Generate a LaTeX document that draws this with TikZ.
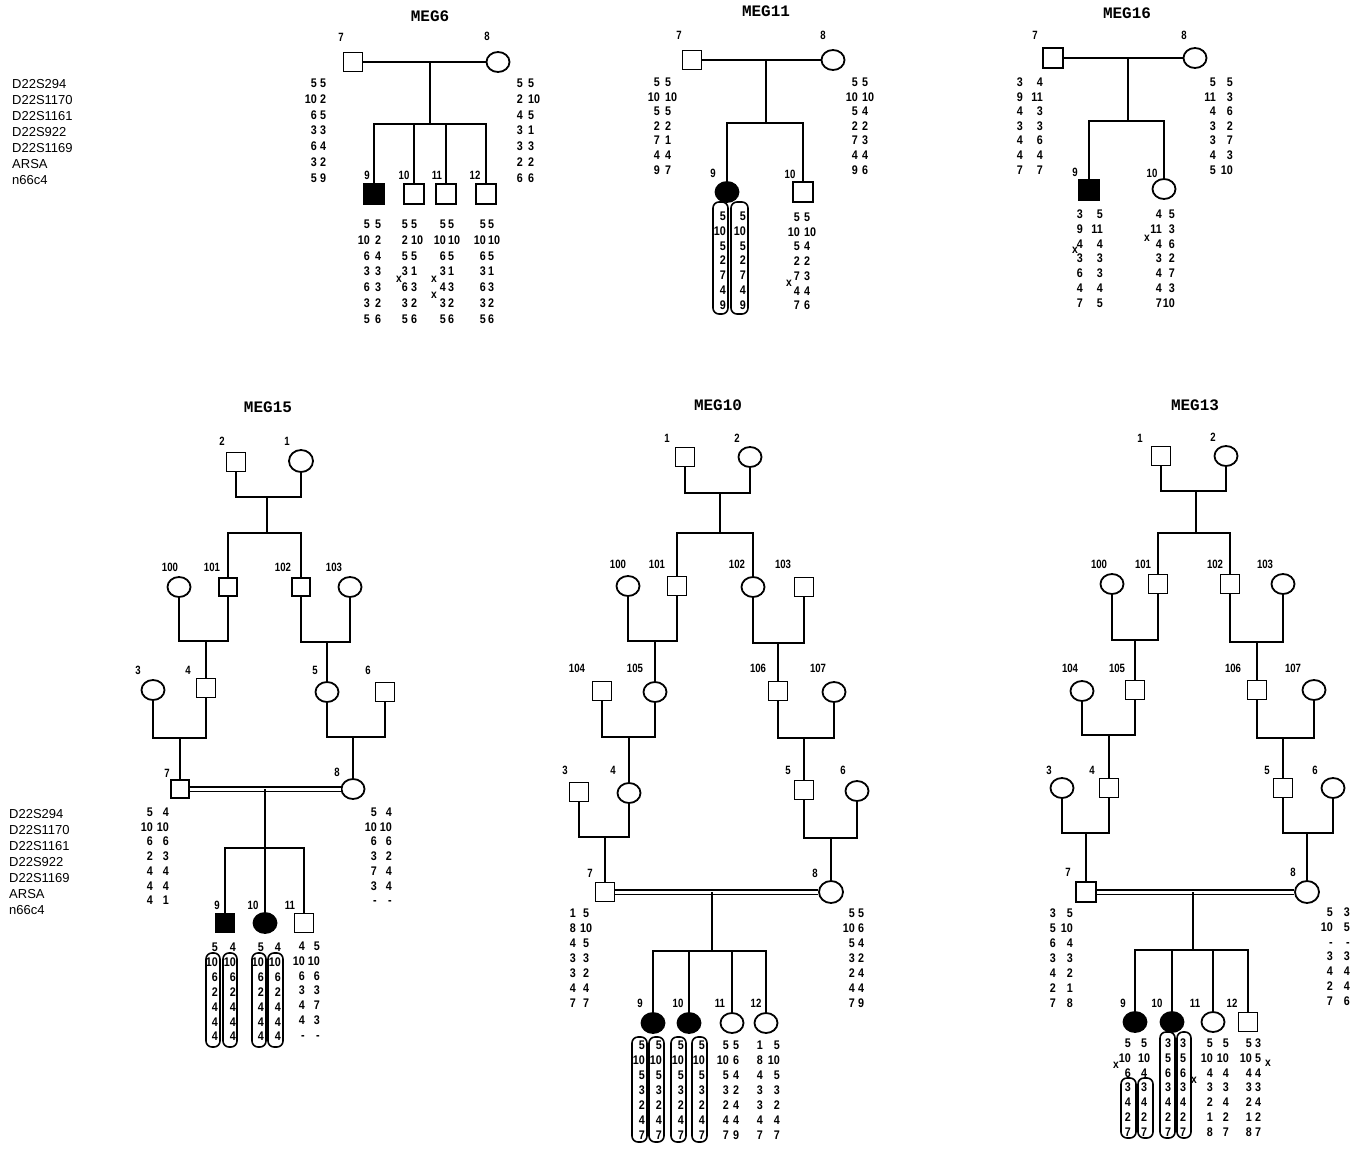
\documentclass[tikz,border=0pt]{standalone}
\usepackage{fontspec}
\setmainfont{Liberation Sans}
\newfontfamily\gtf[FakeStretch=0.86]{Liberation Sans}
\newfontfamily\labf[FakeStretch=0.8]{Liberation Sans}
\newfontfamily\ttlf{Liberation Mono}
\usetikzlibrary{shapes.geometric}
\newcommand{\gcol}[6]{\foreach \v [count=\i from 0] in {#6} {\node[gt, anchor=#3] (#1-\i) at (#2, {#4+#5*\i}) {\v};}}
\begin{document}
\begin{tikzpicture}[x=1pt, y=-1pt,
  sq/.style={draw, rectangle, minimum size=19pt, inner sep=0pt, line width=1.8pt},
  ci/.style={draw, ellipse, minimum width=23pt, minimum height=20pt, inner sep=0pt, line width=1.8pt},
  bci/.style={ci, minimum width=24pt, minimum height=22pt},
  aff/.style={fill=black},
  lnk/.style={line width=2.1pt},
  cons/.style={double, double distance=3pt, line width=1.7pt},
  lab/.style={font=\labf\bfseries\fontsize{12}{13}\selectfont, inner sep=0pt},
  gt/.style={font=\gtf\bfseries\fontsize{12.5}{13}\selectfont, inner sep=0pt, text height=9pt, text depth=0pt},
  mk/.style={font=\fontsize{13}{14}\selectfont, anchor=west, inner sep=0pt},
  ttl/.style={font=\ttlf\bfseries\fontsize{16}{17}\selectfont, inner sep=0pt},
  hap/.style={draw, rounded corners=6pt, line width=1.6pt},
  xm/.style={font=\gtf\bfseries\fontsize{12}{13}\selectfont, inner sep=0pt}]
\fill[white] (0,0) rectangle (1352,1151);
\useasboundingbox (0,0) rectangle (1352,1151);

% marker labels
\foreach \t [count=\i from 0] in {D22S294,D22S1170,D22S1161,D22S922,D22S1169,ARSA,n66c4} {
  \node[mk] (mkA\i) at (12, {84+16*\i}) {\t};
  \node[mk] (mkB\i) at (9, {814+16*\i}) {\t};
}

% ================= MEG6 =================
\node[ttl] (tA) at (430,16) {MEG6};
\node[sq] (A7) at (353,62) {};
\node[ci] (A8) at (498,62) {};
\node[lab] (lA7) at (341,37) {7};
\node[lab] (lA8) at (487,36) {8};
\coordinate (A78) at (430,62);
\coordinate (As) at (430,124);
\draw[lnk] (A7) -- (A8);
\draw[lnk] (A78) -- (As);
\node[sq,aff,minimum size=20pt] (A9) at (374,194) {};
\node[sq,minimum size=20pt] (A10) at (414,194) {};
\node[sq,minimum size=20pt] (A11) at (446,194) {};
\node[sq,minimum size=20pt] (A12) at (486,194) {};
\foreach \c in {A9,A10,A11,A12} {\draw[lnk] (As) -| (\c);}
\node[lab] (lA9) at (367,175) {9};
\node[lab] (lA10) at (404,175) {10};
\node[lab] (lA11) at (437,175) {11};
\node[lab] (lA12) at (475,175) {12};
\gcol{A7L}{317}{east}{83}{15.8}{5,10,6,3,6,3,5}
\gcol{A7R}{320}{west}{83}{15.8}{5,2,5,3,4,2,9}
\gcol{A8L}{523}{east}{83}{15.8}{5,2,4,3,3,2,6}
\gcol{A8R}{528}{west}{83}{15.8}{5,10,5,1,3,2,6}
\gcol{A9L}{370}{east}{224}{15.8}{5,10,6,3,6,3,5}
\gcol{A9R}{375}{west}{224}{15.8}{5,2,4,3,3,2,6}
\gcol{A10L}{408}{east}{224}{15.8}{5,2,5,3,6,3,5}
\gcol{A10R}{411}{west}{224}{15.8}{5,10,5,1,3,2,6}
\gcol{A11L}{446}{east}{224}{15.8}{5,10,6,3,4,3,5}
\gcol{A11R}{448}{west}{224}{15.8}{5,10,5,1,3,2,6}
\gcol{A12L}{486}{east}{224}{15.8}{5,10,6,3,6,3,5}
\gcol{A12R}{488}{west}{224}{15.8}{5,10,5,1,3,2,6}
\node[xm] (xA1) at (399,279) {x};
\node[xm] (xA2) at (434,279) {x};
\node[xm] (xA3) at (434,295) {x};

% ================= MEG11 =================
\node[ttl] (tB) at (766,11) {MEG11};
\node[sq] (B7) at (692,60) {};
\node[ci] (B8) at (833,60) {};
\node[lab] (lB7) at (679,35) {7};
\node[lab] (lB8) at (823,35) {8};
\coordinate (B78) at (766,60);
\coordinate (Bs) at (766,123);
\draw[lnk] (B7) -- (B8);
\draw[lnk] (B78) -- (Bs);
\node[ci,aff] (B9) at (727,192) {};
\node[sq,minimum size=20pt] (B10) at (803,192) {};
\draw[lnk] (Bs) -| (B9);
\draw[lnk] (Bs) -| (B10);
\node[lab] (lB9) at (713,173) {9};
\node[lab] (lB10) at (790,174) {10};
\gcol{B7L}{660}{east}{82}{14.6}{5,10,5,2,7,4,9}
\gcol{B7R}{665}{west}{82}{14.6}{5,10,5,2,1,4,7}
\gcol{B8L}{858}{east}{82}{14.6}{5,10,5,2,7,4,9}
\gcol{B8R}{862}{west}{82}{14.6}{5,10,4,2,3,4,6}
\draw[hap] (713,202) rectangle (728,314);
\draw[hap] (731,202) rectangle (748,314);
\gcol{B9L}{726}{east}{216}{14.8}{5,10,5,2,7,4,9}
\gcol{B9R}{746}{east}{216}{14.8}{5,10,5,2,7,4,9}
\gcol{B10L}{800}{east}{217}{14.7}{5,10,5,2,7,4,7}
\gcol{B10R}{804}{west}{217}{14.7}{5,10,4,2,3,4,6}
\node[xm] (xB1) at (789,283) {x};

% ================= MEG16 =================
\node[ttl] (tC) at (1127,13) {MEG16};
\node[sq,minimum size=20pt] (C7) at (1053,58) {};
\node[ci] (C8) at (1195,58) {};
\node[lab] (lC7) at (1035,35) {7};
\node[lab] (lC8) at (1184,35) {8};
\coordinate (C78) at (1128,58);
\coordinate (Cs) at (1128,121);
\draw[lnk] (C7) -- (C8);
\draw[lnk] (C78) -- (Cs);
\node[sq,aff,minimum size=20pt] (C9) at (1089,190) {};
\node[ci] (C10) at (1164,189) {};
\draw[lnk] (Cs) -| (C9);
\draw[lnk] (Cs) -| (C10);
\node[lab] (lC9) at (1075,172) {9};
\node[lab] (lC10) at (1152,173) {10};
\gcol{C7L}{1023}{east}{82}{14.6}{3,9,4,3,4,4,7}
\gcol{C7R}{1043}{east}{82}{14.6}{4,11,3,3,6,4,7}
\gcol{C8L}{1216}{east}{82}{14.6}{5,11,4,3,3,4,5}
\gcol{C8R}{1233}{east}{82}{14.6}{5,3,6,2,7,3,10}
\gcol{C9L}{1083}{east}{214}{14.8}{3,9,4,3,6,4,7}
\gcol{C9R}{1103}{east}{214}{14.8}{5,11,4,3,3,4,5}
\gcol{C10L}{1162}{east}{214}{14.8}{4,11,4,3,4,4,7}
\gcol{C10R}{1175}{east}{214}{14.8}{5,3,6,2,7,3,10}
\node[xm] (xC1) at (1075,250) {x};
\node[xm] (xC2) at (1147,238) {x};

% ================= MEG15 =================
\node[ttl] (tD) at (268,407) {MEG15};
\node[sq] (D2) at (236,462) {};
\node[bci] (D1) at (301,461) {};
\node[lab] (lD2) at (222,441) {2};
\node[lab] (lD1) at (287,441) {1};
\coordinate (D12) at (267,497);
\coordinate (Ds) at (267,533);
\draw[lnk] (D2) |- (D12) -| (D1);
\draw[lnk] (D12) -- (Ds);
\node[ci] (D100) at (179,587) {};
\node[sq,minimum size=18pt] (D101) at (228,587) {};
\node[sq,minimum size=18pt] (D102) at (301,587) {};
\node[ci] (D103) at (350,587) {};
\draw[lnk] (Ds) -| (D101);
\draw[lnk] (Ds) -| (D102);
\node[lab] (lD100) at (170,567) {100};
\node[lab] (lD101) at (212,567) {101};
\node[lab] (lD102) at (283,567) {102};
\node[lab] (lD103) at (334,567) {103};
\coordinate (Da) at (206,641);
\coordinate (Db) at (327,642);
\draw[lnk] (D100) |- (Da) -| (D101);
\draw[lnk] (D102) |- (Db) -| (D103);
\node[ci] (D3) at (153,690) {};
\node[sq] (D4) at (206,688) {};
\node[ci] (D5) at (327,692) {};
\node[sq] (D6) at (385,692) {};
\draw[lnk] (Da) -- (D4);
\draw[lnk] (Db) -- (D5);
\node[lab] (lD3) at (138,670) {3};
\node[lab] (lD4) at (188,670) {4};
\node[lab] (lD5) at (315,670) {5};
\node[lab] (lD6) at (368,670) {6};
\coordinate (Dc) at (180,738);
\coordinate (Dd) at (353,737);
\draw[lnk] (D3) |- (Dc) -| (D4);
\draw[lnk] (D5) |- (Dd) -| (D6);
\node[sq,minimum size=18pt] (D7) at (180,789) {};
\node[ci] (D8) at (353,789) {};
\draw[lnk] (Dc) -- (D7);
\draw[lnk] (Dd) -- (D8);
\node[lab] (lD7) at (167,773) {7};
\node[lab] (lD8) at (337,772) {8};
\draw[cons] (D7) -- (D8);
\coordinate (De) at (265,789);
\coordinate (Ds2) at (265,848);
\node[sq,aff] (D9) at (225,923) {};
\node[ci,aff] (D10) at (265,923) {};
\node[sq] (D11) at (304,923) {};
\draw[lnk] (De) -- (D10);
\draw[lnk] (Ds2) -| (D9);
\draw[lnk] (Ds2) -| (D11);
\node[lab] (lD9) at (217,905) {9};
\node[lab] (lD10) at (253,905) {10};
\node[lab] (lD11) at (290,905) {11};
\gcol{D7L}{153}{east}{812}{14.7}{5,10,6,2,4,4,4}
\gcol{D7R}{169}{east}{812}{14.7}{4,10,6,3,4,4,1}
\gcol{D8L}{377}{east}{812}{14.7}{5,10,6,3,7,3,-}
\gcol{D8R}{392}{east}{812}{14.7}{4,10,6,2,4,4,-}
\draw[hap] (206,953) rectangle (220,1047);
\draw[hap] (223,953) rectangle (237,1047);
\draw[hap] (252,953) rectangle (266,1047);
\draw[hap] (268,953) rectangle (283,1047);
\gcol{D9L}{218}{east}{947}{14.9}{5,10,6,2,4,4,4}
\gcol{D9R}{236}{east}{947}{14.9}{4,10,6,2,4,4,4}
\gcol{D10L}{264}{east}{947}{14.9}{5,10,6,2,4,4,4}
\gcol{D10R}{281}{east}{947}{14.9}{4,10,6,2,4,4,4}
\gcol{D11L}{305}{east}{946}{14.8}{4,10,6,3,4,4,-}
\gcol{D11R}{320}{east}{946}{14.8}{5,10,6,3,7,3,-}

% ================= MEG10 =================
\node[ttl] (tE) at (718,405) {MEG10};
\node[sq] (E1) at (685,457) {};
\node[ci] (E2) at (750,457) {};
\node[lab] (lE1) at (667,438) {1};
\node[lab] (lE2) at (737,438) {2};
\coordinate (Ea) at (720,493);
\coordinate (Es) at (720,533);
\draw[lnk] (E1) |- (Ea) -| (E2);
\draw[lnk] (Ea) -- (Es);
\node[ci] (E100) at (628,586) {};
\node[sq] (E101) at (677,586) {};
\node[ci] (E102) at (753,587) {};
\node[sq] (E103) at (804,587) {};
\draw[lnk] (Es) -| (E101);
\draw[lnk] (Es) -| (E102);
\node[lab] (lE100) at (618,564) {100};
\node[lab] (lE101) at (657,564) {101};
\node[lab] (lE102) at (737,564) {102};
\node[lab] (lE103) at (783,564) {103};
\coordinate (Eb) at (655,641);
\coordinate (Ec) at (778,643);
\draw[lnk] (E100) |- (Eb) -| (E101);
\draw[lnk] (E102) |- (Ec) -| (E103);
\node[sq] (E104) at (602,691) {};
\node[ci] (E105) at (655,692) {};
\node[sq] (E106) at (778,691) {};
\node[ci] (E107) at (834,692) {};
\draw[lnk] (Eb) -- (E105);
\draw[lnk] (Ec) -- (E106);
\node[lab] (lE104) at (577,668) {104};
\node[lab] (lE105) at (635,668) {105};
\node[lab] (lE106) at (758,668) {106};
\node[lab] (lE107) at (818,668) {107};
\coordinate (Ed) at (629,737);
\coordinate (Ee) at (804,738);
\draw[lnk] (E104) |- (Ed) -| (E105);
\draw[lnk] (E106) |- (Ee) -| (E107);
\node[sq] (E3) at (579,792) {};
\node[ci] (E4) at (629,793) {};
\node[sq] (E5) at (804,790) {};
\node[ci] (E6) at (857,791) {};
\draw[lnk] (Ed) -- (E4);
\draw[lnk] (Ee) -- (E5);
\node[lab] (lE3) at (565,770) {3};
\node[lab] (lE4) at (613,770) {4};
\node[lab] (lE5) at (788,770) {5};
\node[lab] (lE6) at (843,770) {6};
\coordinate (Ef) at (605,837);
\coordinate (Eg) at (831,838);
\draw[lnk] (E3) |- (Ef) -| (E4);
\draw[lnk] (E5) |- (Eg) -| (E6);
\node[sq] (E7) at (605,892) {};
\node[bci] (E8) at (831,892) {};
\draw[lnk] (Ef) -- (E7);
\draw[lnk] (Eg) -- (E8);
\node[lab] (lE7) at (590,873) {7};
\node[lab] (lE8) at (815,873) {8};
\draw[cons] (E7) -- (E8);
\coordinate (Eh) at (712,892);
\coordinate (Es2) at (712,951);
\draw[lnk] (Eh) -- (Es2);
\node[ci,aff] (E9) at (653,1023) {};
\node[ci,aff] (E10) at (689,1023) {};
\node[ci] (E11) at (732,1023) {};
\node[ci] (E12) at (766,1023) {};
\foreach \c in {E9,E10,E11,E12} {\draw[lnk] (Es2) -| (\c);}
\node[lab] (lE9) at (640,1003) {9};
\node[lab] (lE10) at (678,1003) {10};
\node[lab] (lE11) at (720,1003) {11};
\node[lab] (lE12) at (756,1003) {12};
\gcol{E7L}{576}{east}{913}{15}{1,8,4,3,3,4,7}
\gcol{E7R}{586}{center}{913}{15}{5,10,5,3,2,4,7}
\gcol{E8L}{855}{east}{913}{15}{5,10,5,3,2,4,7}
\gcol{E8R}{858}{west}{913}{15}{5,6,4,2,4,4,9}
\draw[hap] (632,1037) rectangle (647,1142);
\draw[hap] (649,1037) rectangle (664,1142);
\draw[hap] (671,1037) rectangle (686,1142);
\draw[hap] (692,1037) rectangle (707,1142);
\gcol{E9L}{645}{east}{1045}{15}{5,10,5,3,2,4,7}
\gcol{E9R}{662}{east}{1045}{15}{5,10,5,3,2,4,7}
\gcol{E10L}{684}{east}{1045}{15}{5,10,5,3,2,4,7}
\gcol{E10R}{705}{east}{1045}{15}{5,10,5,3,2,4,7}
\gcol{E11L}{729}{east}{1045}{15}{5,10,5,3,2,4,7}
\gcol{E11R}{733}{west}{1045}{15}{5,6,4,2,4,4,9}
\gcol{E12L}{763}{east}{1045}{15}{1,8,4,3,3,4,7}
\gcol{E12R}{780}{east}{1045}{15}{5,10,5,3,2,4,7}

% ================= MEG13 =================
\node[ttl] (tF) at (1195,405) {MEG13};
\node[sq] (F1) at (1161,456) {};
\node[ci] (F2) at (1226,456) {};
\node[lab] (lF1) at (1140,438) {1};
\node[lab] (lF2) at (1213,437) {2};
\coordinate (Fa) at (1196,491);
\coordinate (Fs) at (1196,533);
\draw[lnk] (F1) |- (Fa) -| (F2);
\draw[lnk] (Fa) -- (Fs);
\node[ci] (F100) at (1112,584) {};
\node[sq] (F101) at (1158,584) {};
\node[sq] (F102) at (1230,584) {};
\node[ci] (F103) at (1283,584) {};
\draw[lnk] (Fs) -| (F101);
\draw[lnk] (Fs) -| (F102);
\node[lab] (lF100) at (1099,564) {100};
\node[lab] (lF101) at (1143,564) {101};
\node[lab] (lF102) at (1215,564) {102};
\node[lab] (lF103) at (1265,564) {103};
\coordinate (Fb) at (1135,640);
\coordinate (Fc) at (1257,642);
\draw[lnk] (F100) |- (Fb) -| (F101);
\draw[lnk] (F102) |- (Fc) -| (F103);
\node[ci] (F104) at (1082,691) {};
\node[sq] (F105) at (1135,690) {};
\node[sq] (F106) at (1257,690) {};
\node[ci] (F107) at (1314,690) {};
\draw[lnk] (Fb) -- (F105);
\draw[lnk] (Fc) -- (F106);
\node[lab] (lF104) at (1070,668) {104};
\node[lab] (lF105) at (1117,668) {105};
\node[lab] (lF106) at (1233,668) {106};
\node[lab] (lF107) at (1293,668) {107};
\coordinate (Fd) at (1109,735);
\coordinate (Fe) at (1283,738);
\draw[lnk] (F104) |- (Fd) -| (F105);
\draw[lnk] (F106) |- (Fe) -| (F107);
\node[ci] (F3) at (1062,788) {};
\node[sq] (F4) at (1109,788) {};
\node[sq] (F5) at (1283,788) {};
\node[ci] (F6) at (1333,788) {};
\draw[lnk] (Fd) -- (F4);
\draw[lnk] (Fe) -- (F5);
\node[lab] (lF3) at (1049,770) {3};
\node[lab] (lF4) at (1092,770) {4};
\node[lab] (lF5) at (1267,770) {5};
\node[lab] (lF6) at (1315,770) {6};
\coordinate (Ff) at (1086,833);
\coordinate (Fg) at (1307,833);
\draw[lnk] (F3) |- (Ff) -| (F4);
\draw[lnk] (F5) |- (Fg) -| (F6);
\node[sq,minimum size=20pt] (F7) at (1086,892) {};
\node[bci] (F8) at (1307,892) {};
\draw[lnk] (Ff) -- (F7);
\draw[lnk] (Fg) -- (F8);
\node[lab] (lF7) at (1068,872) {7};
\node[lab] (lF8) at (1293,872) {8};
\draw[cons] (F7) -- (F8);
\coordinate (Fh) at (1193,892);
\coordinate (Fs2) at (1193,950);
\draw[lnk] (Fh) -- (Fs2);
\node[ci,aff] (F9) at (1135,1022) {};
\node[ci,aff] (F10) at (1172,1022) {};
\node[ci] (F11) at (1213,1022) {};
\node[sq] (F12) at (1248,1022) {};
\foreach \c in {F9,F10,F11,F12} {\draw[lnk] (Fs2) -| (\c);}
\node[lab] (lF9) at (1123,1003) {9};
\node[lab] (lF10) at (1157,1003) {10};
\node[lab] (lF11) at (1195,1003) {11};
\node[lab] (lF12) at (1232,1003) {12};
\gcol{F7L}{1056}{east}{913}{15}{3,5,6,3,4,2,7}
\gcol{F7R}{1073}{east}{913}{15}{5,10,4,3,2,1,8}
\gcol{F8L}{1333}{east}{912}{14.8}{5,10,-,3,4,2,7}
\gcol{F8R}{1350}{east}{912}{14.8}{3,5,-,3,4,4,6}
\draw[hap] (1121,1078) rectangle (1136,1138);
\draw[hap] (1138,1078) rectangle (1153,1138);
\draw[hap] (1160,1032) rectangle (1175,1138);
\draw[hap] (1177,1032) rectangle (1191,1138);
\gcol{F9L}{1131}{east}{1043}{14.8}{5,10,6,3,4,2,7}
\gcol{F9R}{1144}{center}{1043}{14.8}{5,10,4,3,4,2,7}
\gcol{F10L}{1168}{center}{1043}{14.8}{3,5,6,3,4,2,7}
\gcol{F10R}{1183}{center}{1043}{14.8}{3,5,6,3,4,2,7}
\gcol{F11L}{1213}{east}{1043}{14.8}{5,10,4,3,2,1,8}
\gcol{F11R}{1229}{east}{1043}{14.8}{5,10,4,3,4,2,7}
\gcol{F12L}{1252}{east}{1043}{14.8}{5,10,4,3,2,1,8}
\gcol{F12R}{1255}{west}{1043}{14.8}{3,5,4,3,4,2,7}
\node[xm] (xF1) at (1116,1065) {x};
\node[xm] (xF2) at (1194,1080) {x};
\node[xm] (xF3) at (1268,1063) {x};
\end{tikzpicture}
\end{document}
